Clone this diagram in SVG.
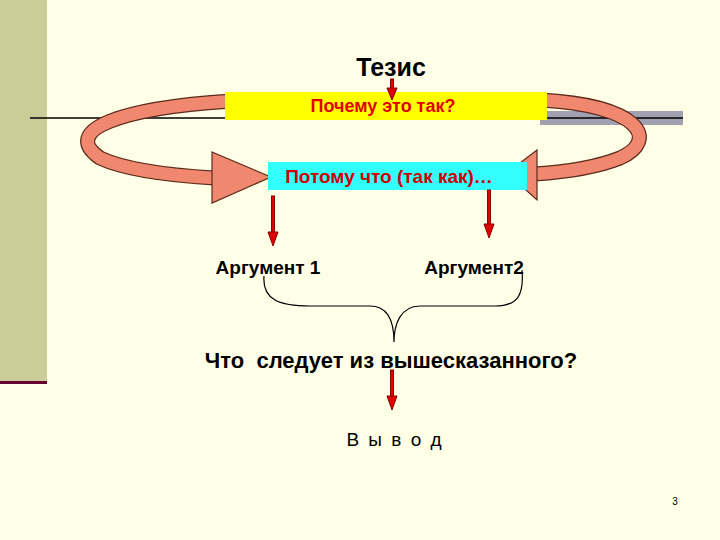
<svg xmlns="http://www.w3.org/2000/svg" width="720" height="540" viewBox="0 0 720 540">
<defs>
<style>
.t{font-family:"Liberation Sans",Arial,sans-serif;font-weight:bold;text-anchor:middle}
.band{fill:none;stroke-linecap:butt}
</style>
</defs>
<rect width="720" height="540" fill="#FFFFE8"/>
<rect x="0" y="0" width="47" height="383" fill="#CCCC99"/>
<rect x="0" y="381" width="47" height="3" fill="#660033"/>
<g id="rules">
<rect x="540" y="111" width="143" height="14" fill="#A0A0B0"/>
<line x1="30" y1="118" x2="683" y2="118" stroke="#000" stroke-width="1.5"/>
</g>
<g id="ring">
<path class="band" d="M232,101 C120,108 60,130 100,158 C130,172 180,176 214,178" stroke="#5A2A1A" stroke-width="15"/>
<path class="band" d="M232,101 C120,108 60,130 100,158 C130,172 180,176 214,178" stroke="#F08870" stroke-width="12.5"/>
<polygon points="212,152 271,177 212,203" fill="#F08870" stroke="#5A2A1A" stroke-width="1.2"/>
<path class="band" d="M540,100 C640,105 660,140 620,158 C595,168 565,172 535,174" stroke="#5A2A1A" stroke-width="15"/>
<path class="band" d="M540,100 C640,105 660,140 620,158 C595,168 565,172 535,174" stroke="#F08870" stroke-width="12.5"/>
<polygon points="537,150 507,173 537,200" fill="#F08870" stroke="#5A2A1A" stroke-width="1.2"/>
</g>
<g id="thesis"><text class="t" x="391" y="76" font-size="25" fill="#000">Тезис</text></g>
<g id="why">
<rect x="225" y="92" width="322" height="28" fill="#FFFF00"/>
<text class="t" x="383" y="112" font-size="18" fill="#E00000">Почему это так?</text>
</g>
<g id="because">
<rect x="268" y="162" width="259" height="28" fill="#33FFFF"/>
<text class="t" x="389" y="183" font-size="19" fill="#CC0000">Потому что (так как)…</text>
</g>
<g id="arg1"><text class="t" x="268" y="274" font-size="19" fill="#000">Аргумент 1</text></g>
<g id="arg2"><text class="t" x="474" y="274" font-size="19" fill="#000">Аргумент2</text></g>
<g id="question"><text class="t" x="391" y="368" font-size="22" fill="#000" style="white-space:pre">Что  следует из вышесказанного?</text></g>
<g id="conclusion"><text x="395" y="446" font-family="Liberation Sans,Arial,sans-serif" font-size="19" text-anchor="middle" fill="#000" letter-spacing="2">В ы в о д</text></g>
<g id="connectors">
<g stroke="#8B0000" stroke-width="1">
<rect x="390.5" y="79" width="3" height="11" fill="#E00000"/>
<polygon points="387,88 397,88 392,100" fill="#E00000"/>
<rect x="271.5" y="196" width="3" height="38" fill="#E00000"/>
<polygon points="268,232 278,232 273,246" fill="#E00000"/>
<rect x="487.5" y="190" width="3" height="36" fill="#E00000"/>
<polygon points="484,224 494,224 489,238" fill="#E00000"/>
<rect x="390.5" y="370" width="3" height="28" fill="#E00000"/>
<polygon points="387,396 397,396 392,410" fill="#E00000"/>
</g>
<path d="M264,276 C262,300 280,306 310,306 L370,306 C390,306 394,325 394,342 C394,325 400,306 420,306 L495,306 C518,306 524,295 522,270" fill="none" stroke="#000" stroke-width="1.2"/>
</g>
<text x="675" y="505" font-family="Liberation Sans,Arial,sans-serif" font-size="10" text-anchor="middle">3</text>
</svg>
